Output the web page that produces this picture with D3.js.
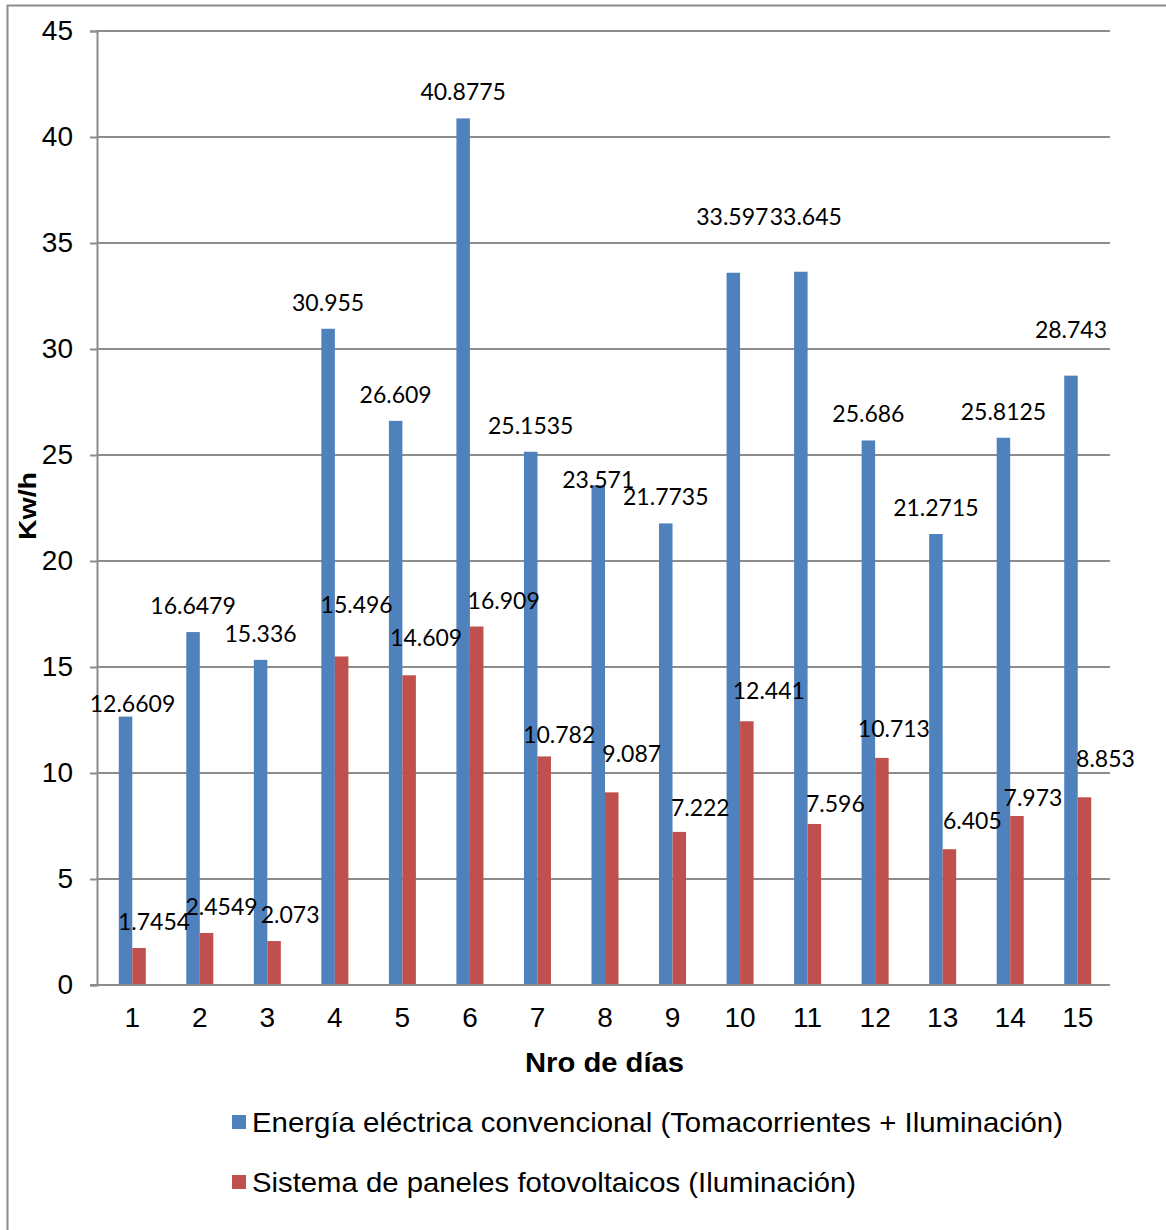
<!DOCTYPE html>
<html>
<head>
<meta charset="utf-8">
<script src="https://cdn.jsdelivr.net/npm/d3@7"></script>
<style>
  html, body { margin: 0; padding: 0; background: #fff; }
  svg { display: block; }
</style>
</head>
<body>
<svg id="chart" width="1166" height="1230"></svg>
<script>
// Daily energy use (kWh) over 15 days
const days = ["1","2","3","4","5","6","7","8","9","10","11","12","13","14","15"];
const conventional = [12.6609,16.6479,15.336,30.955,26.609,40.8775,25.1535,23.571,21.7735,33.597,33.645,25.686,21.2715,25.8125,28.743];
const photovoltaic = [1.7454,2.4549,2.073,15.496,14.609,16.909,10.782,9.087,7.222,12.441,7.596,10.713,6.405,7.973,8.853];
const seriesNames = [
  "Energía eléctrica convencional (Tomacorrientes + Iluminación)",
  "Sistema de paneles fotovoltaicos (Iluminación)"
];
const yTicks = [0,5,10,15,20,25,30,35,40,45];

const colors = ["#4F81BD", "#C0504D"];
const gridColor = "#8c8c8c";

// value-label placement: [dx, dy] in px, applied on top of the default
// position (centred over the bar, 27px above its top) to keep labels apart
const labelNudge = [
  [[7,13],[0,0],[0,0],[0,0],[0,0],[0,0],[0,0],[0,21],[0,0],[-1,-30],[5,-29],[0,0],[0,0],[0,0],[0,-20]],
  [[15,0],[15,0],[16,0],[15,-25],[17,-11],[27,0],[15,5],[20,-12],[21,2],[22,-4],[21,6],[12,-3],[23,-2],[16,8],[21,-12]]
];

const svg = d3.select("#chart");
const plot = { left: 97, right: 1110, top: 31, bottom: 985 };

// outer chart frame
svg.append("rect")
  .attr("x", 7.5).attr("y", 5.5)
  .attr("width", 1180).attr("height", 1250)
  .attr("fill", "none").attr("stroke", gridColor).attr("stroke-width", 2);

// category bands; each pair of bars takes 1/2.5 of a band (gap width 150%)
const xc = d3.scaleBand().domain(days).range([plot.left + 1.5, plot.right + 1.5]);
const step = xc.step();
const groupW = step / 2.5;
const xs = d3.scaleBand().domain([0, 1]).range([0, groupW]);
const groupStart = d => xc(d) + (step - groupW) / 2;

const y = d3.scaleLinear().domain([0, 45]).range([plot.bottom, plot.top]);

// y axis with outward tick marks
const yAxis = d3.axisLeft(y).tickValues(yTicks).tickSize(7).tickPadding(17).tickFormat(d3.format("d"));
const gy = svg.append("g").attr("transform", `translate(${plot.left},0)`).call(yAxis);
gy.select(".domain").attr("stroke", gridColor).attr("stroke-width", 2);
gy.selectAll(".tick line").attr("stroke", gridColor).attr("stroke-width", 2);
gy.selectAll(".tick text")
  .attr("font-family", "'Liberation Sans', Arial, sans-serif")
  .attr("font-size", 28).attr("fill", "#000");

// horizontal gridlines
svg.append("g").selectAll("line").data(yTicks.filter(t => t > 0)).join("line")
  .attr("x1", plot.left).attr("x2", plot.right)
  .attr("y1", d => y(d)).attr("y2", d => y(d))
  .attr("stroke", gridColor).attr("stroke-width", 2);

// bars
const series = [conventional, photovoltaic];
series.forEach((vals, si) => {
  svg.append("g").selectAll("rect").data(days).join("rect")
    .attr("x", d => groupStart(d) + xs(si))
    .attr("width", xs.bandwidth())
    .attr("y", (d, i) => y(vals[i]))
    .attr("height", (d, i) => y(0) - y(vals[i]))
    .attr("fill", colors[si]);
});

// x axis (category labels, no tick marks)
const xAxis = d3.axisBottom(xc).tickSize(0).tickPadding(22);
const gx = svg.append("g").attr("transform", `translate(0,${plot.bottom})`).call(xAxis);
gx.select(".domain").remove();
gx.selectAll(".tick text")
  .attr("font-family", "'Liberation Sans', Arial, sans-serif")
  .attr("font-size", 28).attr("fill", "#000");
svg.append("line")
  .attr("x1", plot.left - 7).attr("x2", plot.right)
  .attr("y1", plot.bottom).attr("y2", plot.bottom)
  .attr("stroke", gridColor).attr("stroke-width", 2);

// value labels
const labelFont = "Lato, 'Open Sans', sans-serif";
series.forEach((vals, si) => {
  svg.append("g").selectAll("text").data(days).join("text")
    .attr("x", (d, i) => groupStart(d) + xs(si) + xs.bandwidth() / 2 + labelNudge[si][i][0])
    .attr("y", (d, i) => y(vals[i]) - 27 + labelNudge[si][i][1])
    .attr("text-anchor", "middle")
    .attr("dominant-baseline", "central")
    .attr("font-family", labelFont)
    .attr("font-size", 23)
    .attr("fill", "#000")
    .text((d, i) => String(vals[i]));
});

// axis titles
svg.append("text")
  .attr("transform", "translate(27,506) rotate(-90)")
  .attr("text-anchor", "middle").attr("dominant-baseline", "central")
  .attr("font-family", "'Liberation Sans', Arial, sans-serif")
  .attr("font-weight", "bold").attr("font-size", 24)
  .attr("textLength", 68).attr("lengthAdjust", "spacingAndGlyphs")
  .text("Kw/h");

svg.append("text")
  .attr("x", 604.5).attr("y", 1062)
  .attr("text-anchor", "middle").attr("dominant-baseline", "central")
  .attr("font-family", "'Liberation Sans', Arial, sans-serif")
  .attr("font-weight", "bold").attr("font-size", 28)
  .attr("textLength", 159).attr("lengthAdjust", "spacingAndGlyphs")
  .text("Nro de días");

// legend
const legendRows = [1122, 1182];
const legendLen = [811, 604];
const lg = svg.append("g");
seriesNames.forEach((name, i) => {
  lg.append("rect")
    .attr("x", 232).attr("y", legendRows[i] - 7)
    .attr("width", 14).attr("height", 14)
    .attr("fill", colors[i]);
  lg.append("text")
    .attr("x", 252).attr("y", legendRows[i])
    .attr("dominant-baseline", "central")
    .attr("font-family", "'Liberation Sans', Arial, sans-serif")
    .attr("font-size", 28)
    .attr("textLength", legendLen[i]).attr("lengthAdjust", "spacingAndGlyphs")
    .text(name);
});
</script>
</body>
</html>
